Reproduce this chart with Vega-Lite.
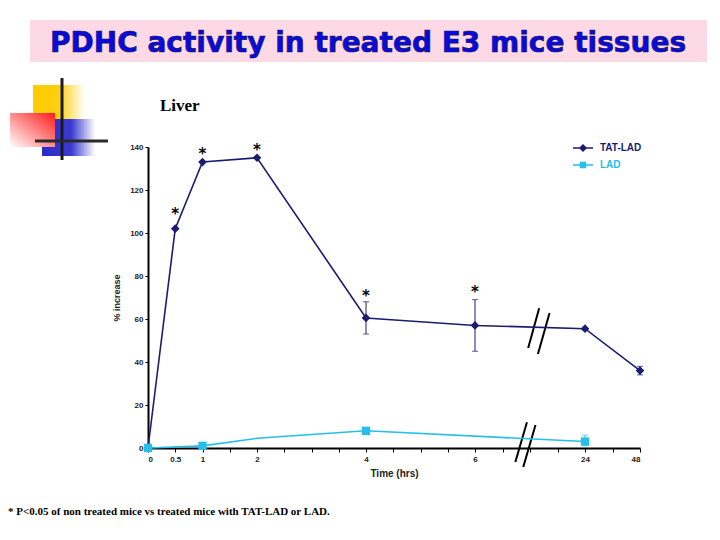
{
  "$schema": "https://vega.github.io/schema/vega-lite/v6.json",
  "width": 492,
  "height": 301,
  "autosize": {"type": "none"},
  "padding": {"left": 148, "top": 147, "right": 80, "bottom": 92},
  "background": "white",
  "config": {
    "view": {"stroke": null},
    "font": "Liberation Sans"
  },
  "datasets": {
    "series": [
      {"series": "TAT-LAD", "time": 0, "value": 0},
      {"series": "TAT-LAD", "time": 0.5, "value": 102},
      {"series": "TAT-LAD", "time": 1, "value": 133},
      {"series": "TAT-LAD", "time": 2, "value": 135},
      {"series": "TAT-LAD", "time": 4, "value": 60.5, "lo": 53, "hi": 68},
      {"series": "TAT-LAD", "time": 6, "value": 57, "lo": 45, "hi": 69},
      {"series": "TAT-LAD", "time": 24, "value": 55.5},
      {"series": "TAT-LAD", "time": 48, "value": 36, "lo": 34, "hi": 38},
      {"series": "LAD", "time": 0, "value": 0},
      {"series": "LAD", "time": 1, "value": 1},
      {"series": "LAD", "time": 2, "value": 4.5},
      {"series": "LAD", "time": 4, "value": 8},
      {"series": "LAD", "time": 24, "value": 3, "lo": 1, "hi": 6}
    ],
    "stars": [
      {"time": 0.5, "y": 110.5},
      {"time": 1, "y": 138.5},
      {"time": 2, "y": 140.5},
      {"time": 4, "y": 72.5},
      {"time": 6, "y": 74.5}
    ],
    "breaks": [
      {"t1": 14.7, "v1": 46.5, "t2": 16.5, "v2": 65},
      {"t1": 16.3, "v1": 43.7, "t2": 18.2, "v2": 62.8},
      {"t1": 12.6, "v1": -6.5, "t2": 14.5, "v2": 12},
      {"t1": 13.9, "v1": -8.8, "t2": 15.9, "v2": 10.7}
    ]
  },
  "layer": [
    {
      "data": {"values": [{}]},
      "mark": {"type": "rect", "color": "#fdd9e6"},
      "encoding": {"x": {"value": -118}, "x2": {"value": 559}, "y": {"value": -127}, "y2": {"value": -85}}
    },
    {
      "data": {"values": [{}]},
      "mark": {"type": "text", "text": "PDHC activity in treated E3 mice tissues", "font": "DejaVu Sans", "fontWeight": "bold", "fontSize": 28, "align": "center", "baseline": "alphabetic", "color": "#0a0ae0", "stroke": "#1a1a50", "strokeWidth": 0.7},
      "encoding": {"x": {"value": 220}, "y": {"value": -95}}
    },
    {
      "data": {"values": [{}]},
      "mark": {"type": "rect", "color": {"gradient": "linear", "x1": 0, "y1": 0, "x2": 1, "y2": 0, "stops": [{"offset": 0, "color": "#ffcc00"}, {"offset": 0.5, "color": "#ffcf10"}, {"offset": 1, "color": "#ffffff"}]}},
      "encoding": {"x": {"value": -115}, "x2": {"value": -63}, "y": {"value": -62}, "y2": {"value": -10}}
    },
    {
      "data": {"values": [{}]},
      "mark": {"type": "rect", "color": {"gradient": "linear", "x1": 0, "y1": 0, "x2": 1, "y2": 0, "stops": [{"offset": 0, "color": "#2a2ac8"}, {"offset": 0.55, "color": "#3a3ad0"}, {"offset": 1, "color": "#ffffff"}]}},
      "encoding": {"x": {"value": -106}, "x2": {"value": -53}, "y": {"value": -28}, "y2": {"value": 9}}
    },
    {
      "data": {"values": [{}]},
      "mark": {"type": "rect", "color": {"gradient": "linear", "x1": 1, "y1": 0, "x2": 0, "y2": 1, "stops": [{"offset": 0, "color": "#ff1a1a"}, {"offset": 1, "color": "#ffffff"}]}},
      "encoding": {"x": {"value": -138}, "x2": {"value": -93}, "y": {"value": -34}, "y2": {"value": 0}}
    },
    {
      "data": {"values": [{}]},
      "mark": {"type": "rule", "color": "#1a1a1a", "strokeWidth": 3},
      "encoding": {"x": {"value": -86}, "y": {"value": -69}, "y2": {"value": 13}}
    },
    {
      "data": {"values": [{}]},
      "mark": {"type": "rule", "color": "#2a2a2a", "strokeWidth": 3},
      "encoding": {"x": {"value": -113}, "x2": {"value": -40}, "y": {"value": -6}}
    },
    {
      "data": {"values": [{}]},
      "mark": {"type": "text", "text": "Liver", "font": "Liberation Serif", "fontWeight": "bold", "fontSize": 17, "align": "left", "baseline": "alphabetic", "color": "#000000"},
      "encoding": {"x": {"value": 12}, "y": {"value": -36}}
    },
    {
      "data": {"values": [{}]},
      "mark": {"type": "text", "text": "* P<0.05 of non treated mice vs treated mice with TAT-LAD or LAD.", "font": "Liberation Serif", "fontWeight": "bold", "fontSize": 11, "align": "left", "baseline": "alphabetic", "color": "#000000"},
      "encoding": {"x": {"value": -140}, "y": {"value": 368}}
    },
    {
      "data": {"name": "breaks"},
      "mark": {"type": "rule", "color": "#000000", "strokeWidth": 2},
      "encoding": {
        "x": {"field": "t1", "type": "quantitative"},
        "x2": {"field": "t2"},
        "y": {"field": "v1", "type": "quantitative"},
        "y2": {"field": "v2"}
      }
    },
    {
      "data": {"name": "series"},
      "mark": {"type": "line", "strokeWidth": 1.6},
      "encoding": {
        "x": {"field": "time", "type": "quantitative",
          "scale": {"domain": [0, 6, 24, 48], "range": [0, 327, 437, 492], "nice": false, "zero": false},
          "axis": {
            "title": "Time (hrs)",
            "values": [0, 0.5, 1, 1.5, 2, 2.5, 3, 3.5, 4, 4.5, 5, 5.5, 6, 10.5, 15, 19.5, 24, 36, 48],
            "tickCount": 100,
            "labelExpr": "indexof([0, 0.5, 1, 2, 4, 6, 24, 48], datum.value) >= 0 ? '' + datum.value : ''",
            "labelOverlap": false,
            "grid": false,
            "domainColor": "#000000", "domainWidth": 2,
            "tickColor": "#000000", "tickSize": 4, "tickWidth": 1,
            "labelFont": "Liberation Sans", "labelFontSize": 8, "labelFontWeight": "bold", "labelColor": "#222222",
            "labelPadding": 3,
            "titleFont": "Liberation Sans", "titleFontSize": 10, "titleFontWeight": "bold", "titleColor": "#222222", "titlePadding": 5
          }
        },
        "y": {"field": "value", "type": "quantitative",
          "scale": {"domain": [0, 140], "nice": false},
          "axis": {
            "title": "% increase",
            "values": [0, 20, 40, 60, 80, 100, 120, 140],
            "tickCount": 100,
            "grid": false,
            "domainColor": "#000000", "domainWidth": 2,
            "tickColor": "#000000", "tickSize": 3,
            "labelFont": "Liberation Sans", "labelFontSize": 8, "labelFontWeight": "bold", "labelColor": "#222222",
            "labelPadding": 2,
            "titleFont": "Liberation Sans", "titleFontSize": 9, "titleFontWeight": "bold", "titleColor": "#222222", "titlePadding": 8
          }
        },
        "color": {"field": "series", "type": "nominal",
          "scale": {"domain": ["TAT-LAD", "LAD"], "range": ["#1b1b72", "#27bfe8"]},
          "legend": {
            "title": null, "orient": "none", "legendX": 424, "legendY": -10,
            "labelFont": "Liberation Sans", "labelFontSize": 10, "labelFontWeight": "bold",
            "symbolSize": 400, "rowPadding": -3, "labelOffset": 6,
            "symbolType": "M-1,0H1",
            "encode": {
              "labels": {"update": {"fill": {"signal": "datum.value == 'LAD' ? '#27bfe8' : '#1b1b72'"}}},
              "symbols": {"update": {
                "shape": {"signal": "datum.value == 'LAD' ? 'M-1,0H1M-0.25,-0.25H0.25V0.25H-0.25Z' : 'M-1,0H1M-0.3,0L0,-0.3L0.3,0L0,0.3Z'"},
                "fill": {"signal": "datum.value == 'LAD' ? '#27bfe8' : '#1b1b72'"},
                "stroke": {"signal": "datum.value == 'LAD' ? '#27bfe8' : '#1b1b72'"},
                "strokeWidth": {"value": 1.5},
                "opacity": {"value": 1}
              }}
            }
          }
        },
        "detail": {"field": "series"}
      }
    },
    {
      "data": {"name": "series"},
      "transform": [{"filter": "datum.lo != null"}],
      "mark": {"type": "rule", "strokeWidth": 1},
      "encoding": {
        "x": {"field": "time", "type": "quantitative"},
        "y": {"field": "lo", "type": "quantitative"},
        "y2": {"field": "hi"},
        "color": {"field": "series", "type": "nominal"}
      }
    },
    {
      "data": {"name": "series"},
      "transform": [{"filter": "datum.lo != null"}],
      "mark": {"type": "tick", "orient": "horizontal", "size": 6, "thickness": 1},
      "encoding": {
        "x": {"field": "time", "type": "quantitative"},
        "y": {"field": "lo", "type": "quantitative"},
        "color": {"field": "series", "type": "nominal"}
      }
    },
    {
      "data": {"name": "series"},
      "transform": [{"filter": "datum.lo != null"}],
      "mark": {"type": "tick", "orient": "horizontal", "size": 6, "thickness": 1},
      "encoding": {
        "x": {"field": "time", "type": "quantitative"},
        "y": {"field": "hi", "type": "quantitative"},
        "color": {"field": "series", "type": "nominal"}
      }
    },
    {
      "data": {"name": "series"},
      "transform": [{"filter": "datum.series == 'TAT-LAD'"}],
      "mark": {"type": "point", "shape": "diamond", "filled": true, "size": 75, "opacity": 1},
      "encoding": {
        "x": {"field": "time", "type": "quantitative"},
        "y": {"field": "value", "type": "quantitative"},
        "color": {"field": "series", "type": "nominal"}
      }
    },
    {
      "data": {"name": "series"},
      "transform": [{"filter": "datum.series == 'LAD' && datum.time != 2"}],
      "mark": {"type": "point", "shape": "square", "filled": true, "size": 70, "opacity": 1},
      "encoding": {
        "x": {"field": "time", "type": "quantitative"},
        "y": {"field": "value", "type": "quantitative"},
        "color": {"field": "series", "type": "nominal"}
      }
    },
    {
      "data": {"name": "stars"},
      "mark": {"type": "text", "text": "*", "font": "DejaVu Sans", "fontWeight": "bold", "fontSize": 15, "baseline": "middle", "align": "center", "dy": 4, "color": "#000000"},
      "encoding": {
        "x": {"field": "time", "type": "quantitative"},
        "y": {"field": "y", "type": "quantitative"}
      }
    }
  ]
}
